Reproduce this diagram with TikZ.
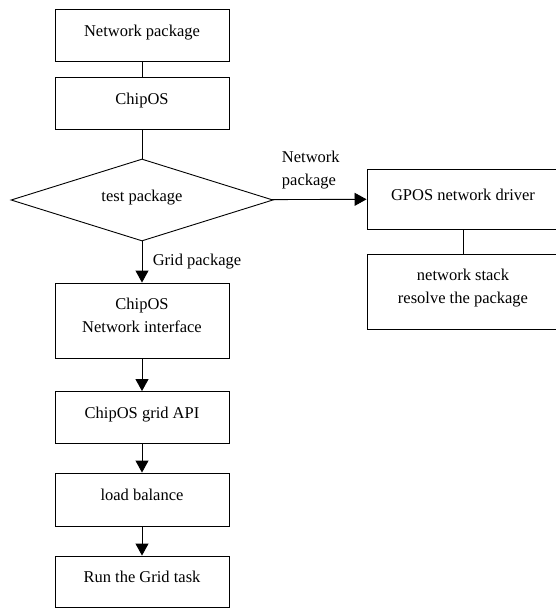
\documentclass[tikz,border=0pt]{standalone}
\usepackage{fontspec}
\setmainfont{Liberation Serif}
\usetikzlibrary{shapes.geometric,arrows.meta}

\tikzset{
	box/.style={draw, minimum width=174pt, minimum height=52pt, text height=11.5pt, text depth=8.6pt},
	twobox/.style={box, align=center, text height=34.5pt, text depth=10.8pt},
	test/.style={draw, shape=diamond, aspect=3.2, inner sep=0pt, minimum width=262pt, minimum height=82pt, text height=11.5pt, text depth=8.6pt},
	arr/.style={-{Triangle[length=12pt,width=13pt]}}
}

\begin{document}
\begin{tikzpicture}[x=1pt, y=-1pt, line width=0.9pt, font=\fontsize{16.5}{23}\selectfont]
	\useasboundingbox (0,0) rectangle (556,608);

	\node[box] (netpkg) at (142,35) {Network package};
	\node[box] (chipos) at (142,103) {ChipOS};
	\node[test] (check) at (142,200) {test package};
	\node[twobox, minimum height=75pt] (iface) at (142,320.5) {ChipOS\\Network interface};
	\node[box] (api) at (142,417.5) {ChipOS grid API};
	\node[box, minimum height=53pt] (balance) at (142,499.5) {load balance};
	\node[box, minimum height=51pt] (task) at (142,581.5) {Run the Grid task};

	\node[box, minimum width=192pt, minimum height=60pt] (driver) at (463,199) {GPOS network driver};
	\node[twobox, minimum width=192pt, minimum height=75pt] (stack) at (463,291.5) {network stack\\resolve the package};

	\path [-]
	(netpkg) edge (chipos)
	(chipos) edge (check)
	(driver) edge (stack);

	\path [arr]
	(check) edge node (gridlbl) [right=7pt] {Grid package} (iface)
	        edge node (netlbl) [pos=0, anchor=south west, align=left, xshift=6pt, yshift=7pt] {Network\\package} (driver)
	(iface) edge (api)
	(api) edge (balance)
	(balance) edge (task);
\end{tikzpicture}
\end{document}
